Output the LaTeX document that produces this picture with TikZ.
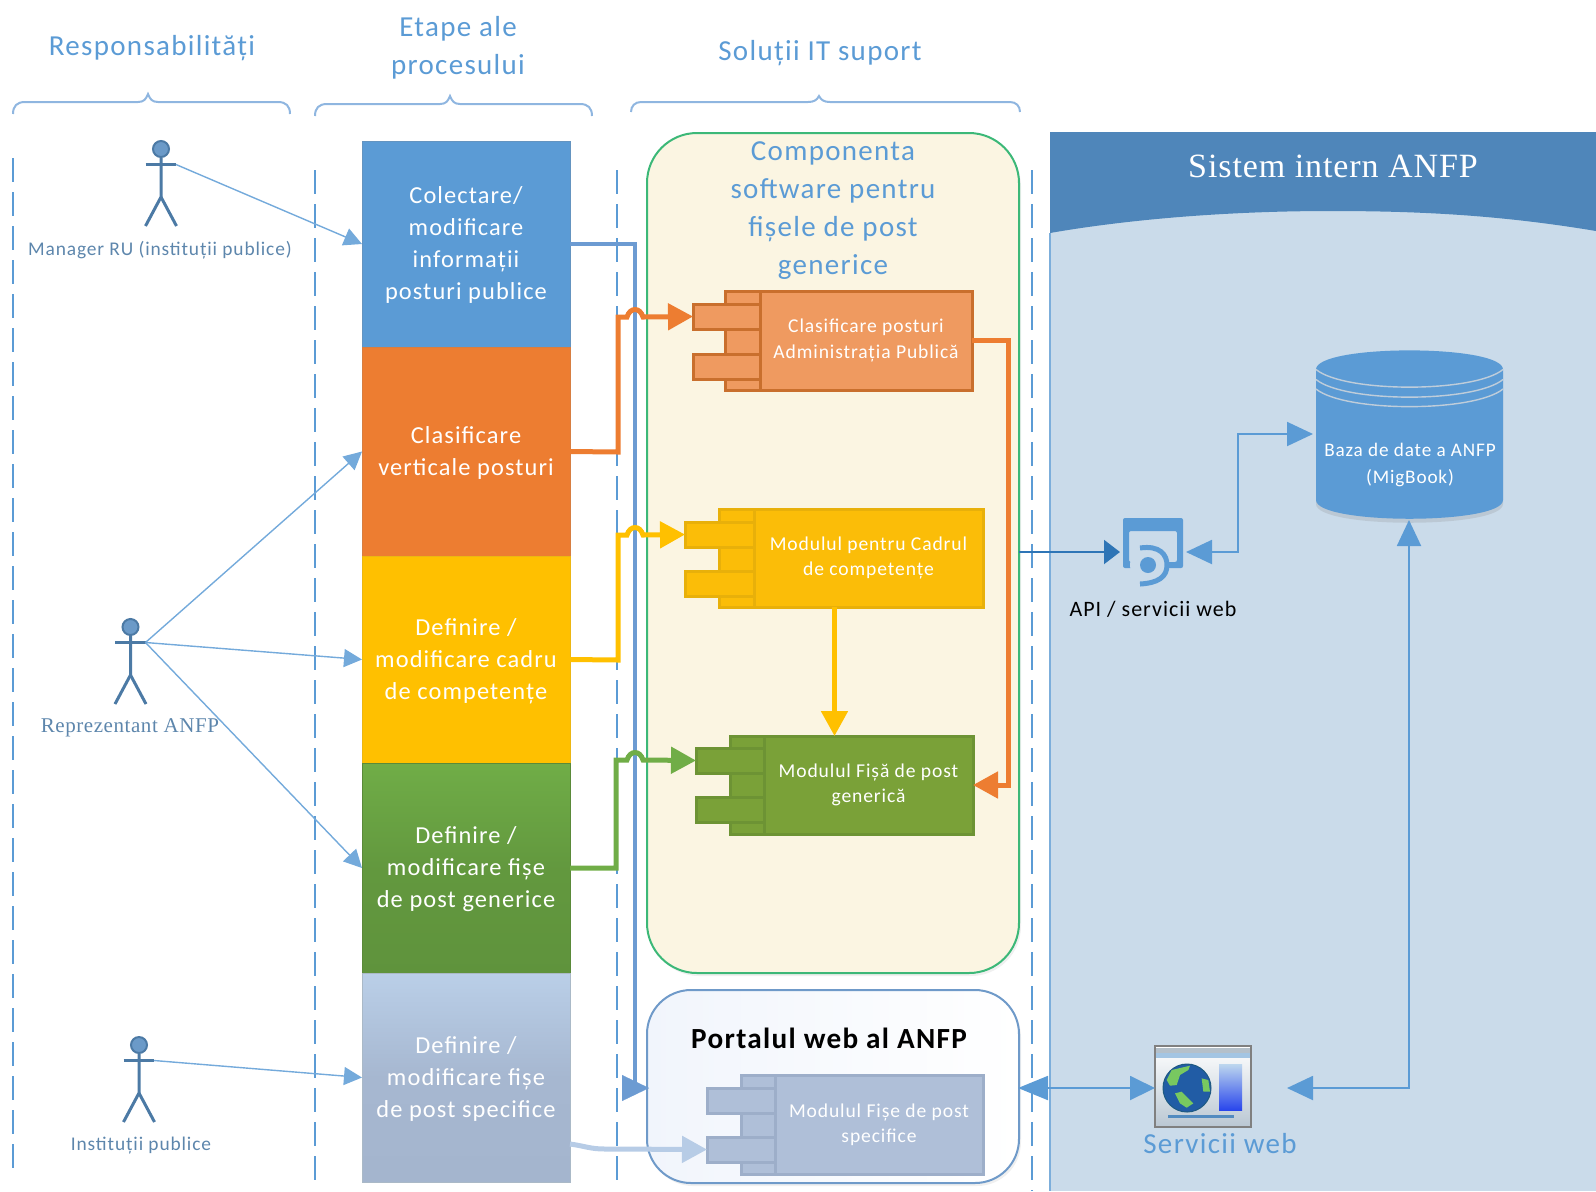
\documentclass[tikz,border=0pt]{standalone}
\usepackage{fontspec}
\setmainfont{Carlito}[LetterSpace=4.5]
\newfontfamily\serifalt{Liberation Serif}[LetterSpace=2.7]
\usetikzlibrary{arrows.meta,shadows,calc}
\definecolor{cblue}{HTML}{5B9BD5}
\definecolor{corange}{HTML}{ED7D31}
\definecolor{cyellow}{HTML}{FFC000}
\definecolor{cgreenb}{HTML}{70AD47}
\definecolor{cthick}{HTML}{6C9BD2}
\definecolor{clight}{HTML}{B7CCE6}
\definecolor{chead}{HTML}{4F86BA}
\definecolor{cbody}{HTML}{CADBEA}
\definecolor{cactor}{HTML}{5A8FC2}
\definecolor{clabel}{HTML}{5D86AC}
\definecolor{cbrace}{HTML}{8FB6E0}
\definecolor{cpanel}{HTML}{FBF5E2}
\definecolor{cpanedge}{HTML}{3CB878}
\definecolor{cportedge}{HTML}{6F9AC9}
\definecolor{cdark}{HTML}{2E75B6}
\definecolor{cland}{HTML}{78C860}
\newcommand{\pxbox}[7][]{%
  \pgfmathsetmacro\pxw{(#5-#3)*0.5}\pgfmathsetmacro\pxh{(#6-#4)*0.5}%
  \node[inner sep=0pt,outer sep=0pt,align=center,minimum width=\pxw pt,minimum height=\pxh pt,#1] (#2) at ({(#3+#5)/2},{(#4+#6)/2}) {#7};}
\newcommand{\actor}[3]{% name, x, head y
  \node[circle,draw=cactor!85!black,fill=cactor!90!white,line width=1pt,minimum size=8pt,inner sep=0pt] (#1) at (#2,#3) {};
  \coordinate (#1hand) at ($(#2,#3)+(15,15.5)$);
  \draw[actorline] (#1.south) -- ++(0,39) coordinate (#1hip) -- ++(-15.5,29);
  \draw[actorline] (#1hip) -- ++(15.5,29);
  \draw[actorline] ($(#2,#3)+(-15.5,15.5)$) -- (#1hand);}
\newcommand{\comp}[9]{% name, backL, tabL, mainL, mainR, top, bot, tab1, tab2 (tops); tab height 25
  \pxbox[compstyle]{#1back}{#2}{#6}{#4}{#7}{}
  \pxbox[compstyle]{#1tabA}{#3}{#8}{#4}{\number\numexpr#8+25\relax}{}
  \pxbox[compstyle]{#1tabB}{#3}{#9}{#4}{\number\numexpr#9+25\relax}{}
}
\newcommand{\topstrut}{\rule{0pt}{10pt}}
\newcommand{\botstrut}{\rule[-2.5pt]{0pt}{2.5pt}}
\tikzset{
  x=0.5pt,y=-0.5pt,
  actorline/.style={draw=cactor!85!black,line width=1.5pt},
  head/.style={text=cblue,font=\fontsize{14.5}{19}\selectfont,align=center},
  brace/.style={draw=cbrace,line width=1pt},
  lane/.style={draw=cblue,line width=1pt,dash pattern=on 12pt off 5pt},
  stage/.style={text=white,font=\fontsize{12.2}{16}\selectfont},
  compstyle/.style={draw=compedge,fill=compfill,line width=1.5pt},
  comptext/.style={compstyle,text=white,font=\fontsize{9.8}{12.6}\selectfont},
  actlabel/.style={text=clabel,font=\fontsize{9.7}{12}\selectfont},
  tipS/.tip={Triangle[length=9pt,width=9pt]},
  tipL/.tip={Triangle[length=12.5pt,width=13pt]},
  assoc/.style={draw=cblue!85!white,line width=.7pt,-{tipS}},
  flow/.style={line width=2.5pt,-{tipL},line join=miter},
  service/.style={draw=cblue,line width=1pt},
}
\begin{document}
\begin{tikzpicture}
\useasboundingbox (0,0) rectangle (1596,1191);
% right panel
\node[fill=cbody,inner sep=0pt,minimum width=273pt,minimum height=529.5pt] (sistem) at (1323,661.5) {};
\fill[chead] (1050,132) -- (1596,132) -- (1596,231) .. controls (1500,215) and (1420,211) .. (1330,211) .. controls (1230,211) and (1130,219) .. (1050,233) -- cycle;
\draw[draw=cblue!70!cbody,line width=1pt] (1050,233) -- (1050,1191);
\node[text=white,font=\serifalt\fontsize{17}{19}\selectfont] (sistemt) at (1333,166) {Sistem intern ANFP};
% panels
\pxbox[rounded corners=25pt,draw=cpanedge,fill=cpanel,line width=1pt,drop shadow={opacity=.12,shadow xshift=1pt,shadow yshift=-1.5pt}]{panelA}{647}{133}{1019}{973}{}
\pxbox[rounded corners=22pt,draw=cportedge,left color={rgb,255:red,241;green,245;blue,252},right color=white,line width=1pt,drop shadow={opacity=.12,shadow xshift=1pt,shadow yshift=-1.5pt}]{portal}{647}{990}{1019}{1183}{}
% lanes
\draw[lane] (13,158) -- (13,1169);
\draw[lane] (315,170) -- (315,1182);
\draw[lane] (617,170) -- (617,1182);
\draw[lane] (1032,170) -- (1032,1191);
% headers + braces
\node[head] (h1) at (152,48) {Responsabilități};
\node[head] (h2) at (458,48) {Etape ale\\[0pt]procesului};
\node[head] (h3) at (820,53) {Soluții IT suport};
\draw[brace] (13,114) .. controls (13,106) and (17,102) .. (25,102) -- (138,102) .. controls (144,102) and (146,99) .. (148,94) .. controls (150,99) and (152,102) .. (158,102) -- (278,102) .. controls (286,102) and (290,106) .. (290,114);
\draw[brace] (315,116) .. controls (315,108) and (319,104) .. (327,104) -- (440,104) .. controls (446,104) and (448,101) .. (450,96) .. controls (452,101) and (454,104) .. (460,104) -- (580,104) .. controls (588,104) and (592,108) .. (592,116);
\draw[brace] (631,112) .. controls (631,106) and (635,102) .. (641,102) -- (808,102) .. controls (814,102) and (817,100) .. (819,96) .. controls (821,100) and (824,102) .. (830,102) -- (1010,102) .. controls (1016,102) and (1020,106) .. (1020,112);
% panel title
\node[head] (ptitle) at (833,211) {Componenta\\software pentru\\fișele de post\\generice};
\node[font=\bfseries\fontsize{14.6}{17}\selectfont,text=black] (ptitleb) at (829,1038) {Portalul web al ANFP};
% stages
\pxbox[stage,fill=cblue,draw=cblue!75!gray]{b1}{362}{141}{570}{347}{\topstrut Colectare/\\modificare\\informații\\posturi publice\botstrut}
\pxbox[stage,fill=corange,draw=corange!80!gray]{b2}{362}{347}{570}{556}{\topstrut Clasificare\\verticale posturi\botstrut}
\pxbox[stage,fill=cyellow,draw=cyellow!85!gray]{b3}{362}{556}{570}{763}{\topstrut Definire /\\modificare cadru\\de competențe\botstrut}
\pxbox[stage,top color=cgreenb,bottom color=cgreenb!85!black,middle color=cgreenb!88!black,draw=cgreenb!80!black]{b4}{362}{763}{570}{973}{\topstrut Definire /\\modificare fișe\\de post generice\botstrut}
\pxbox[stage,top color={rgb,255:red,186;green,207;blue,232},bottom color={rgb,255:red,164;green,181;blue,206},middle color={rgb,255:red,166;green,183;blue,208},draw=gray!60!cblue!60!white]{b5}{362}{973}{570}{1182}{\topstrut Definire /\\modificare fișe\\de post specifice\botstrut}
% components
\definecolor{compfill}{HTML}{EF9A60}\definecolor{compedge}{HTML}{C96F2D}
\comp{co}{725}{693}{760}{972}{291}{390}{304}{354}
\pxbox[comptext]{co}{760}{291}{972}{390}{Clasificare posturi\\Administrația Publică}
\definecolor{compfill}{HTML}{FBBD08}\definecolor{compedge}{HTML}{E8B00A}
\comp{cy}{719}{685}{754}{983}{509}{607}{522}{571}
\pxbox[comptext]{cy}{754}{509}{983}{607}{Modulul pentru Cadrul\\de competențe}
\definecolor{compfill}{HTML}{7AA138}\definecolor{compedge}{HTML}{6D9334}
\comp{cg}{730}{696}{764}{973}{736}{834}{748}{797}
\pxbox[comptext]{cg}{764}{736}{973}{834}{Modulul Fișă de post\\generică}
\definecolor{compfill}{HTML}{AFBFD8}\definecolor{compedge}{HTML}{9DAEC9}
\comp{cl}{741}{707}{775}{983}{1075}{1174}{1088}{1137}
\pxbox[comptext]{cl}{775}{1075}{983}{1174}{Modulul Fișe de post\\specifice}
% blue thick connector
\draw[cthick,line width=2pt] (b1.east) -- (635,244) -- (635,1088);
\draw[cthick,line width=.1pt,-{Triangle[length=13.5pt,width=13pt]}] (622,1088) -- (649,1088);
% flows with hops
\draw[flow,corange] (b2.east) -- (618,452) -- (618,317) -- (627,317) .. controls (630,307) and (640,307) .. (643,317) -- (cotabA.west);
\draw[flow,cyellow] (b3.east) -- (618,660) -- (618,535) -- (627,535) .. controls (630,525) and (640,525) .. (643,535) -- (cytabA.west);
\draw[flow,cgreenb] (b4.east) -- (616,868) -- (616,760) -- (627,760) .. controls (630,750) and (640,750) .. (643,760) -- (cgtabA.west);
\draw[flow,clight] (570,1144) .. controls (585,1146) and (590,1149) .. (605,1149) -- (cltabB.west);
\draw[flow,corange] (972,340) -- (1008,340) -- (1008,785) -- (cg.east |- 0,785);
\draw[flow,cyellow] (834.5,607) -- (834.5,736);
% actors
\actor{a1}{161}{149}
\actor{a2}{130.5}{627}
\actor{a3}{139}{1045}
\node[actlabel] (l1) at (160,250) {Manager RU (instituții publice)};
\node[actlabel,font=\serifalt\fontsize{10.5}{12}\selectfont] (l2) at (130,728) {Reprezentant ANFP};
\node[actlabel] (l3) at (141,1146) {Instituții publice};
\draw[assoc] (a1hand) -- (b1.west);
\draw[assoc] (a2hand) -- (b2.west);
\draw[assoc] (a2hand) -- (b3.west);
\draw[assoc] (a2hand) -- (b4.west);
\draw[assoc] (a3hand) -- (b5.west);
% database
\path[fill=cblue,drop shadow={opacity=.2,shadow xshift=0pt,shadow yshift=-2pt}] (1316,369.5) .. controls (1316,344) and (1503,344) .. (1503,369.5) -- (1503,500) .. controls (1503,525) and (1316,525) .. (1316,500) -- cycle;
\foreach \dy in {0,10,19.5}
  \draw[draw=cbody!85!gray,line width=.7pt] (1316,369.5+\dy) .. controls (1345,393+\dy) and (1474,393+\dy) .. (1503,369.5+\dy);
\node[text=white,font=\fontsize{9.6}{13.5}\selectfont,align=center,inner sep=0pt] (db) at (1410,465) {Baza de date a ANFP\\(MigBook)};
% API icon
\coordinate (apic) at (1148,565);
\fill[even odd rule,cblue,rounded corners=1pt] (1123,518) rectangle (1183,568) (1129,531) rectangle (1177,562);
\fill[cbody] (apic) circle[radius=9pt];
\fill[cblue] (apic) circle[radius=4pt];
\draw[cblue,line width=2.5pt] ($(apic)+(-8,-17)$) .. controls (1160,545) and (1167,555) .. (1167,565) .. controls (1167,577) and (1158,583) .. ($(apic)+(-8,19)$);
\node[font=\fontsize{11}{13}\selectfont,text=black] (apit) at (1153,609) {API / servicii web};
% web window
\pxbox[draw=gray,line width=1pt,top color=white,bottom color=gray!22!cbody]{web}{1155}{1046}{1251}{1127}{}
\fill[gray!30!cbody] (1156,1048) rectangle (1250,1053);
\fill[cblue!35!cbody] (1156,1053) rectangle (1250,1058);
\fill[top color=cblue!40!white,bottom color=blue!55!cblue] (1219,1064) rectangle (1242,1110);
\fill[cblue!90!black] (1168,1115) rectangle (1234,1118);
\node[circle,fill={rgb,255:red,33;green,92;blue,165},draw={rgb,255:red,30;green,90;blue,130},line width=.5pt,inner sep=0pt,minimum size=24pt] (globe) at (1187,1088) {};
\begin{scope}[shift={(1145,1035)},x=.1667pt,y=-.1667pt]
\fill[cland] (65,135) -- (80,105) -- (135,92) -- (130,105) -- (105,120) -- (95,150) -- (75,152) -- cycle;
\fill[cland] (90,175) -- (110,170) -- (145,205) -- (125,218) -- (105,205) -- cycle;
\fill[cland] (170,130) -- (190,135) -- (195,170) -- (175,170) -- cycle;
\end{scope}
\node[text=cblue,font=\fontsize{14.5}{17}\selectfont] (webt) at (1220,1144) {Servicii web};
% service connectors
\draw[draw=cdark,line width=1pt,-{Triangle[length=8pt,width=12pt]}] (1019,552) -- (1120,552);
\draw[service,{Triangle[length=13pt,width=12pt]}-{Triangle[length=13pt,width=12pt]}] (1186,552) -- (1238,552) -- (1238,434) -- (1313,434);
\draw[service,{Triangle[length=15pt,width=12pt]}-{Triangle[length=12.5pt,width=12pt]}] (1018,1088) -- (web.west |- 0,1088);
\draw[service,{Triangle[length=13pt,width=12pt]}-{Triangle[length=13pt,width=12pt]}] (1287,1088) -- (1409,1088) -- (1409,520);
\end{tikzpicture}
\end{document}
